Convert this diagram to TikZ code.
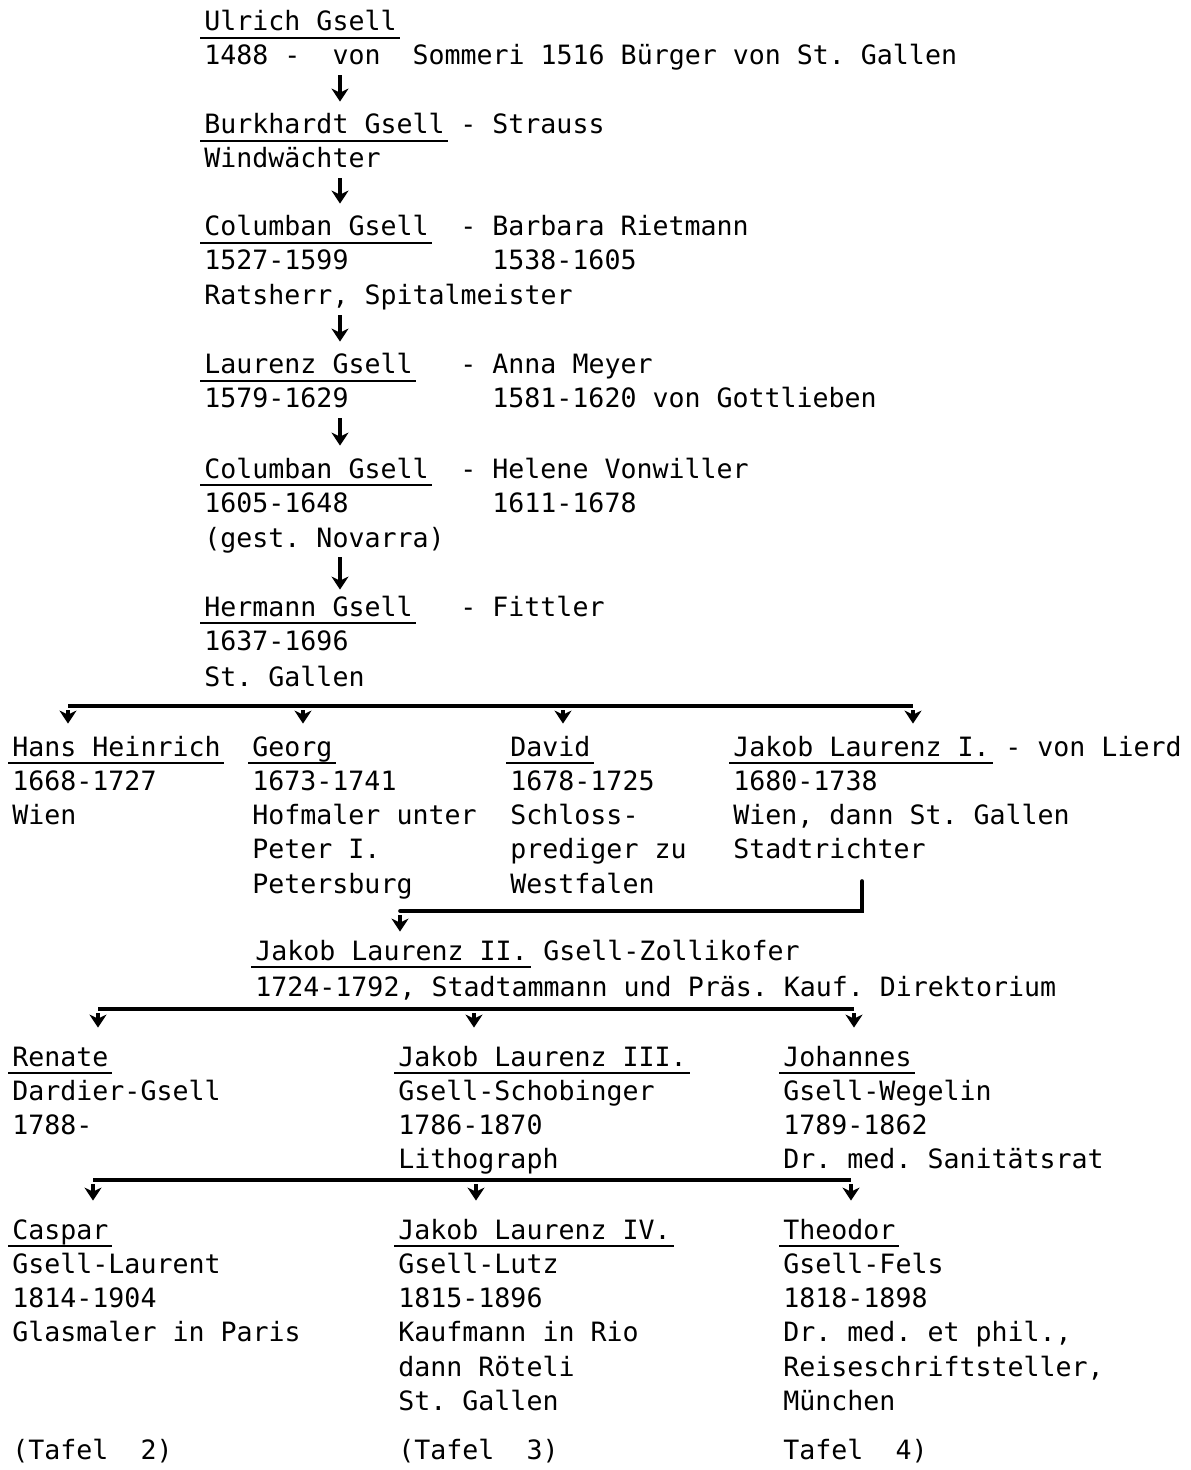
\documentclass[tikz,border=0pt]{standalone}
\usepackage{fontspec}
\setmonofont{DejaVu Sans Mono}
\usetikzlibrary{arrows.meta}
\newcommand\typew{\ttfamily\fontsize{13.3}{16}\selectfont\frenchspacing}
\tikzset{
    txt/.style={anchor=base west, inner sep=0pt, text height=10pt, text depth=3pt, font=\typew},
    uline/.style={line width=1pt},
    bus/.style={line width=1.8pt},
    kid/.style={line width=1.6pt, -{Stealth[length=6.5pt,width=8.5pt,inset=2pt]}, shorten <=2pt, shorten >=#1},
}
\begin{document}
\begin{tikzpicture}[x=0.5pt,y=-0.5pt]
    \useasboundingbox (0,0) rectangle (1190,1470);
    \node[txt] (ulrich) at (204,31) {Ulrich Gsell};
    \node[txt] (ulrich-1) at (204,65) {1488 -\ \ von\ \ Sommeri 1516 Bürger von St. Gallen};
    \node[txt] (burk) at (204,134) {Burkhardt Gsell};
    \node[txt] (burk-s) at (460,134) {- Strauss};
    \node[txt] (burk-1) at (204,168) {Windwächter};
    \node[txt] (col1) at (204,236) {Columban Gsell};
    \node[txt] (col1-s) at (460,236) {- Barbara Rietmann};
    \node[txt] (col1-1) at (204,270) {1527-1599};
    \node[txt] (col1-s1) at (492,270) {1538-1605};
    \node[txt] (col1-2) at (204,305) {Ratsherr, Spitalmeister};
    \node[txt] (lau) at (204,374) {Laurenz Gsell};
    \node[txt] (lau-s) at (460,374) {- Anna Meyer};
    \node[txt] (lau-1) at (204,408) {1579-1629};
    \node[txt] (lau-s1) at (492,408) {1581-1620 von Gottlieben};
    \node[txt] (col2) at (204,478) {Columban Gsell};
    \node[txt] (col2-s) at (460,478) {- Helene Vonwiller};
    \node[txt] (col2-1) at (204,512) {1605-1648};
    \node[txt] (col2-s1) at (492,512) {1611-1678};
    \node[txt] (col2-2) at (204,547) {(gest. Novarra)};
    \node[txt] (her) at (204,616) {Hermann Gsell};
    \node[txt] (her-s) at (460,616) {- Fittler};
    \node[txt] (her-1) at (204,650) {1637-1696};
    \node[txt] (her-2) at (204,686) {St. Gallen};

    \coordinate (spine) at (340,0);
    \draw[kid=6pt] (ulrich-1.south -| spine) -- (burk.north -| spine);
    \draw[kid=6pt] (burk-1.south -| spine) -- (col1.north -| spine);
    \draw[kid=6pt] (col1-2.south -| spine) -- (lau.north -| spine);
    \draw[kid=6pt] (lau-1.south -| spine) -- (col2.north -| spine);
    \draw[kid=3pt] (col2-2.south -| spine) -- (her.north -| spine);

    \node[txt] (hans) at (12,756) {Hans Heinrich};
    \foreach \t [count=\i] in {1668-1727, Wien}
        \node[txt] (hans-\i) at (12,{756+34.3*\i}) {\t};
    \node[txt] (georg) at (252,756) {Georg};
    \foreach \t [count=\i] in {1673-1741, Hofmaler unter, Peter I., Petersburg}
        \node[txt] (georg-\i) at (252,{756+34.3*\i}) {\t};
    \node[txt] (david) at (510,756) {David};
    \foreach \t [count=\i] in {1678-1725, Schloss-, prediger zu, Westfalen}
        \node[txt] (david-\i) at (510,{756+34.3*\i}) {\t};
    \node[txt] (jl1) at (733,756) {Jakob Laurenz I.};
    \node[txt] (jl1-s) at (1005,756) {- von Lierd};
    \foreach \t [count=\i] in {1680-1738, {Wien, dann St. Gallen}, Stadtrichter}
        \node[txt] (jl1-\i) at (733,{756+34.3*\i}) {\t};

    \coordinate (k1) at (68,706);
    \coordinate (k2) at (303,706);
    \coordinate (k3) at (563,706);
    \coordinate (k4) at (913,706);
    \draw[bus] (k1) -- (k4);
    \draw[kid=6pt] (k1) -- (k1 |- hans.north);
    \draw[kid=6pt] (k2) -- (k2 |- georg.north);
    \draw[kid=6pt] (k3) -- (k3 |- david.north);
    \draw[kid=6pt] (k4) -- (k4 |- jl1.north);

    \node[txt] (jl2) at (255,960) {Jakob Laurenz II.};
    \node[txt] (jl2-s) at (543,960) {Gsell-Zollikofer};
    \node[txt] (jl2-1) at (255,996) {1724-1792, Stadtammann und Präs. Kauf. Direktorium};
    \coordinate (tap) at (862,881);
    \coordinate (k5) at (400,911);
    \draw[bus, line cap=round] (tap) |- (k5);
    \draw[kid=4pt] (k5) -- (k5 |- jl2.north);

    \node[txt] (renate) at (12,1066) {Renate};
    \foreach \t [count=\i] in {Dardier-Gsell, 1788-}
        \node[txt] (renate-\i) at (12,{1066+34.3*\i}) {\t};
    \node[txt] (jl3) at (398,1066) {Jakob Laurenz III.};
    \foreach \t [count=\i] in {Gsell-Schobinger, 1786-1870, Lithograph}
        \node[txt] (jl3-\i) at (398,{1066+34.3*\i}) {\t};
    \node[txt] (joh) at (783,1066) {Johannes};
    \foreach \t [count=\i] in {Gsell-Wegelin, 1789-1862, Dr. med. Sanitätsrat}
        \node[txt] (joh-\i) at (783,{1066+34.3*\i}) {\t};

    \coordinate (k6) at (98,1009);
    \coordinate (k7) at (474,1009);
    \coordinate (k8) at (854,1009);
    \draw[bus] (k6) -- (k8);
    \draw[kid=9pt] (k6) -- (k6 |- renate.north);
    \draw[kid=9pt] (k7) -- (k7 |- jl3.north);
    \draw[kid=9pt] (k8) -- (k8 |- joh.north);

    \node[txt] (caspar) at (12,1239) {Caspar};
    \foreach \t [count=\i] in {Gsell-Laurent, 1814-1904, Glasmaler in Paris}
        \node[txt] (caspar-\i) at (12,{1239+34.3*\i}) {\t};
    \node[txt] (caspar-t) at (12,1459) {(Tafel\ \ 2)};
    \node[txt] (jl4) at (398,1239) {Jakob Laurenz IV.};
    \foreach \t [count=\i] in {Gsell-Lutz, 1815-1896, Kaufmann in Rio, dann Röteli, St. Gallen}
        \node[txt] (jl4-\i) at (398,{1239+34.3*\i}) {\t};
    \node[txt] (jl4-t) at (398,1459) {(Tafel\ \ 3)};
    \node[txt] (theo) at (783,1239) {Theodor};
    \foreach \t [count=\i] in {Gsell-Fels, 1818-1898, {Dr. med. et phil.,}, {Reiseschriftsteller,}, München}
        \node[txt] (theo-\i) at (783,{1239+34.3*\i}) {\t};
    \node[txt] (theo-t) at (783,1459) {Tafel\ \ 4)};

    \coordinate (k9) at (93,1180);
    \coordinate (k10) at (476,1180);
    \coordinate (k11) at (851,1180);
    \draw[bus] (k9) -- (k11);
    \draw[kid=9pt] (k9) -- (k9 |- caspar.north);
    \draw[kid=9pt] (k10) -- (k10 |- jl4.north);
    \draw[kid=9pt] (k11) -- (k11 |- theo.north);

    \foreach \n in {ulrich,burk,col1,lau,col2,her,hans,georg,david,jl1,jl2,renate,jl3,joh,caspar,jl4,theo}
        \draw[uline] ([shift={(-2pt,-3.5pt)}]\n.base west) -- ([shift={(1.5pt,-3.5pt)}]\n.base east);
\end{tikzpicture}
\end{document}
